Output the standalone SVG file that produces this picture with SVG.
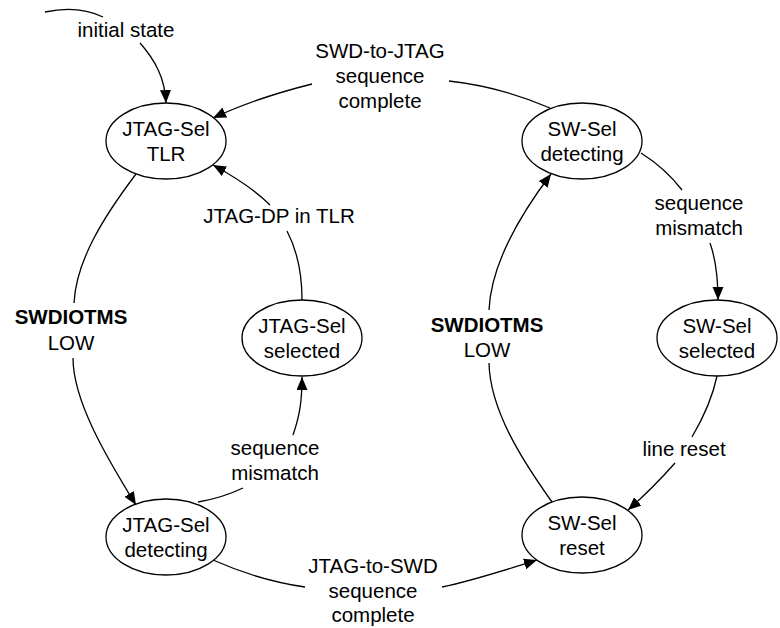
<svg xmlns="http://www.w3.org/2000/svg" width="780" height="628" viewBox="0 0 780 628">
<style>
.node ellipse{fill:#fff;stroke:#000;stroke-width:1.3}
text{font-family:"Liberation Sans",Arial,sans-serif;font-size:20.5px;fill:#000;text-anchor:middle}
.b{font-weight:bold}
.edge{fill:none;stroke:#000;stroke-width:1.3}
</style>
<defs>
<marker id="arr" markerUnits="userSpaceOnUse" markerWidth="14" markerHeight="12" refX="13" refY="5.5" orient="auto">
<path d="M0,0 L13,5.5 L0,11 z" fill="#000"/>
</marker>
</defs>
<rect width="780" height="628" fill="#fff"/>
<g id="connectors">
<path class="edge" d="M45,12 Q78,5 103,17"/>
<path class="edge" d="M140,43 C155,60 165,78 166,103" marker-end="url(#arr)"/>
<path class="edge" d="M550,108 C520,95 485,85 449,81"/>
<path class="edge" d="M312,84 C280,92 245,103 213,118" marker-end="url(#arr)"/>
<path class="edge" d="M302,300 C302,275 297,250 287,231"/>
<path class="edge" d="M270,205 C255,190 235,177 213,165" marker-end="url(#arr)"/>
<path class="edge" d="M136,174 C105,215 76,260 74,303"/>
<path class="edge" d="M73,358 C73,400 105,455 136,505" marker-end="url(#arr)"/>
<path class="edge" d="M198,502 Q222,498 243,488"/>
<path class="edge" d="M293,435 C300,415 302,400 302,377" marker-end="url(#arr)"/>
<path class="edge" d="M213,560 C240,572 270,582 305,587"/>
<path class="edge" d="M442,587 C475,580 505,570 537,560" marker-end="url(#arr)"/>
<path class="edge" d="M552,502 C522,460 490,410 489,363"/>
<path class="edge" d="M489,310 C491,265 520,215 551,174" marker-end="url(#arr)"/>
<path class="edge" d="M641,153 C660,165 672,177 682,190"/>
<path class="edge" d="M710,243 C716,260 718,280 718,300" marker-end="url(#arr)"/>
<path class="edge" d="M717,376 C712,400 702,420 692,437"/>
<path class="edge" d="M675,463 C660,480 645,495 628,510" marker-end="url(#arr)"/>
</g>
<g id="labels">
<text x="126" y="37">initial state</text>
<text x="380" y="58">SWD-to-JTAG</text>
<text x="380" y="83">sequence</text>
<text x="380" y="108">complete</text>
<text x="279" y="223">JTAG-DP in TLR</text>
<text class="b" x="71" y="324">SWDIOTMS</text>
<text x="71" y="350">LOW</text>
<text class="b" x="487" y="332">SWDIOTMS</text>
<text x="487" y="357">LOW</text>
<text x="275" y="455">sequence</text>
<text x="275" y="480">mismatch</text>
<text x="699" y="210">sequence</text>
<text x="699" y="235">mismatch</text>
<text x="684" y="456">line reset</text>
<text x="373" y="573">JTAG-to-SWD</text>
<text x="373" y="598">sequence</text>
<text x="373" y="622">complete</text>
</g>
<g id="jtag-tlr" class="node"><ellipse cx="166" cy="141" rx="60" ry="38"/><text x="166" y="136">JTAG-Sel</text><text x="166" y="161">TLR</text></g>
<g id="jtag-selected" class="node"><ellipse cx="302" cy="338" rx="60" ry="38"/><text x="302" y="333">JTAG-Sel</text><text x="302" y="358">selected</text></g>
<g id="jtag-detecting" class="node"><ellipse cx="166" cy="537" rx="60" ry="38"/><text x="166" y="532">JTAG-Sel</text><text x="166" y="557">detecting</text></g>
<g id="sw-detecting" class="node"><ellipse cx="582" cy="141" rx="60" ry="38"/><text x="582" y="136">SW-Sel</text><text x="582" y="161">detecting</text></g>
<g id="sw-selected" class="node"><ellipse cx="717" cy="338" rx="60" ry="38"/><text x="717" y="333">SW-Sel</text><text x="717" y="358">selected</text></g>
<g id="sw-reset" class="node"><ellipse cx="582" cy="535" rx="60" ry="38"/><text x="582" y="530">SW-Sel</text><text x="582" y="555">reset</text></g>
</svg>
